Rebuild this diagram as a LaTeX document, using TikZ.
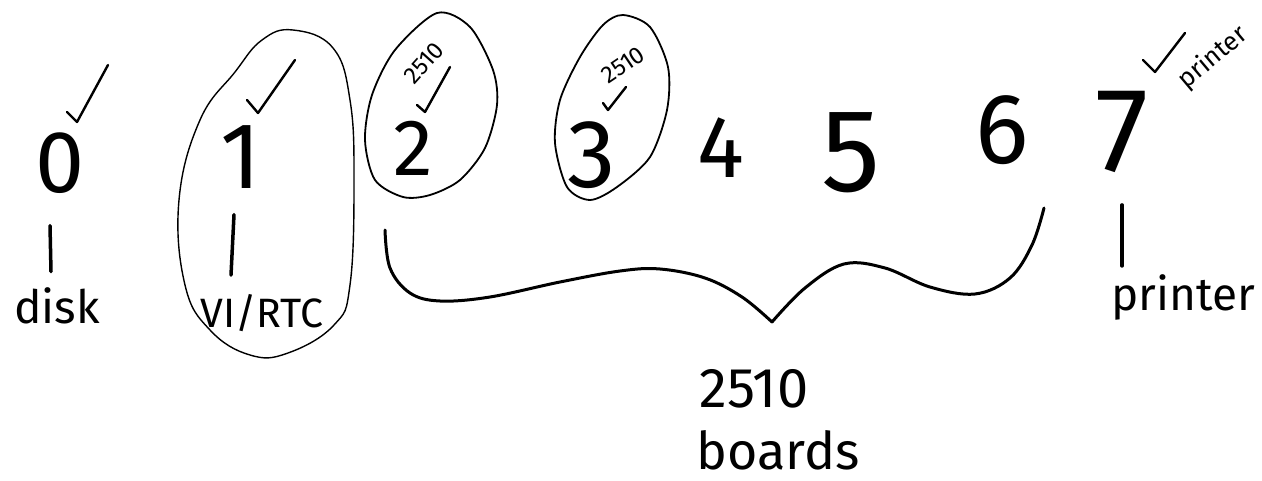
\documentclass[tikz,border=0pt]{standalone}
\usepackage{fontspec}
\setmainfont{Fira Sans}
\newcommand\setfs[1]{\fontsize{#1}{#1}\selectfont}
\begin{document}
\begin{tikzpicture}[x=1pt,y=-1pt,
  digit/.style={inner sep=0pt},
  lbl/.style={inner sep=0pt},
  tickline/.style={line width=3.5pt, line cap=round},
  checkmark/.style={line width=2.4pt, line cap=round, line join=round},
  loopline/.style={line width=1.4pt},
  ellline/.style={line width=1.8pt},
  braceline/.style={line width=3pt, line cap=round, line join=miter}]
\useasboundingbox (0,0) rectangle (1262,481);
\fill[white] (0,0) rectangle (1262,481);

% digits
\node[digit, font=\setfs{88}]  (d0) at (60,163)   {0};
\node[digit, font=\setfs{94}]  (d1) at (241,157)  {1};
\node[digit, font=\setfs{80}]  (d2) at (413,148)  {2};
\node[digit, font=\setfs{97}]  (d3) at (592,155)  {3};
\node[digit, font=\setfs{88}]  (d4) at (721,148)  {4};
\node[digit, font=\setfs{118}] (d5) at (851,153)  {5};
\node[digit, font=\setfs{100}] (d6) at (1002,130) {6};
\node[digit, font=\setfs{120}] (d7) at (1122,132) {7};

% small rotated notes
\node[lbl, font=\setfs{24}, rotate=48] (t2) at (424,63) {2510};
\node[lbl, font=\setfs{24}, rotate=34] (t3) at (623,65) {2510};
\node[lbl, font=\setfs{26}, rotate=40] (t7) at (1213,58) {printer};

% lower labels
\node[lbl, font=\setfs{46}] (disk)    at (57,306)   {disk};
\node[lbl, font=\setfs{41}] (vi)      at (262,313)  {VI/RTC};
\node[lbl, font=\setfs{46}] (printer) at (1183,297) {printer};
\node[lbl, font=\setfs{56}] (n2510)   at (754,389)  {2510};
\node[lbl, font=\setfs{52}] (boards)  at (778,450)  {boards};

% ticks between digit and label
\draw[tickline] ([xshift=-10pt,yshift=-32pt]d0.south) -- ([xshift=-6pt,yshift=16pt]disk.north);
\draw[tickline] ([xshift=-7pt,yshift=-26pt]d1.south) -- ([xshift=-31pt,yshift=19pt]vi.north);
\draw[tickline] ([yshift=-32pt]d7.south) -- ([xshift=-61pt,yshift=8pt]printer.north);

% check marks
\draw[checkmark] (67,112) -- (77,122) -- (108,65);
\draw[checkmark] (247,100) -- (258,113) -- (295,60);
\draw[checkmark] (417,105) -- (425,112) -- (450,67);
\draw[checkmark] (603,103) -- (608,110) -- (626,87);
\draw[checkmark] (1143,60) -- (1155,72) -- (1185,33);

% loop around 1
\draw[loopline] plot[smooth cycle, tension=0.7] coordinates {(293,30) (333,48) (350,100) (354,180) (350,285) (334,325) (288,353) (250,355) (210,330) (185,285) (179,200) (200,120) (235,72) (262,40)};

% ellipses around 2 and 3
\draw[ellline] plot[smooth cycle] coordinates {(437,13) (470,27) (493,70) (497,105) (485,148) (460,180) (430,195) (403,197) (375,180) (365,140) (372,95) (395,50)};
\draw[ellline] plot[smooth cycle] coordinates {(623,15) (650,27) (668,67) (667,110) (650,157) (617,187) (590,200) (567,187) (555,143) (560,100) (580,57) (603,25)};

% brace
\draw[braceline] plot[smooth, tension=0.6] coordinates {(385,230) (390,268) (410,293) (440,301) (490,297) (560,282) (620,271) (660,269) (705,278) (742,297) (772,322)};
\draw[braceline] plot[smooth, tension=0.6] coordinates {(772,322) (805,288) (844,264) (885,268) (930,287) (975,294) (1010,278) (1032,245) (1044,208)};
\end{tikzpicture}
\end{document}
